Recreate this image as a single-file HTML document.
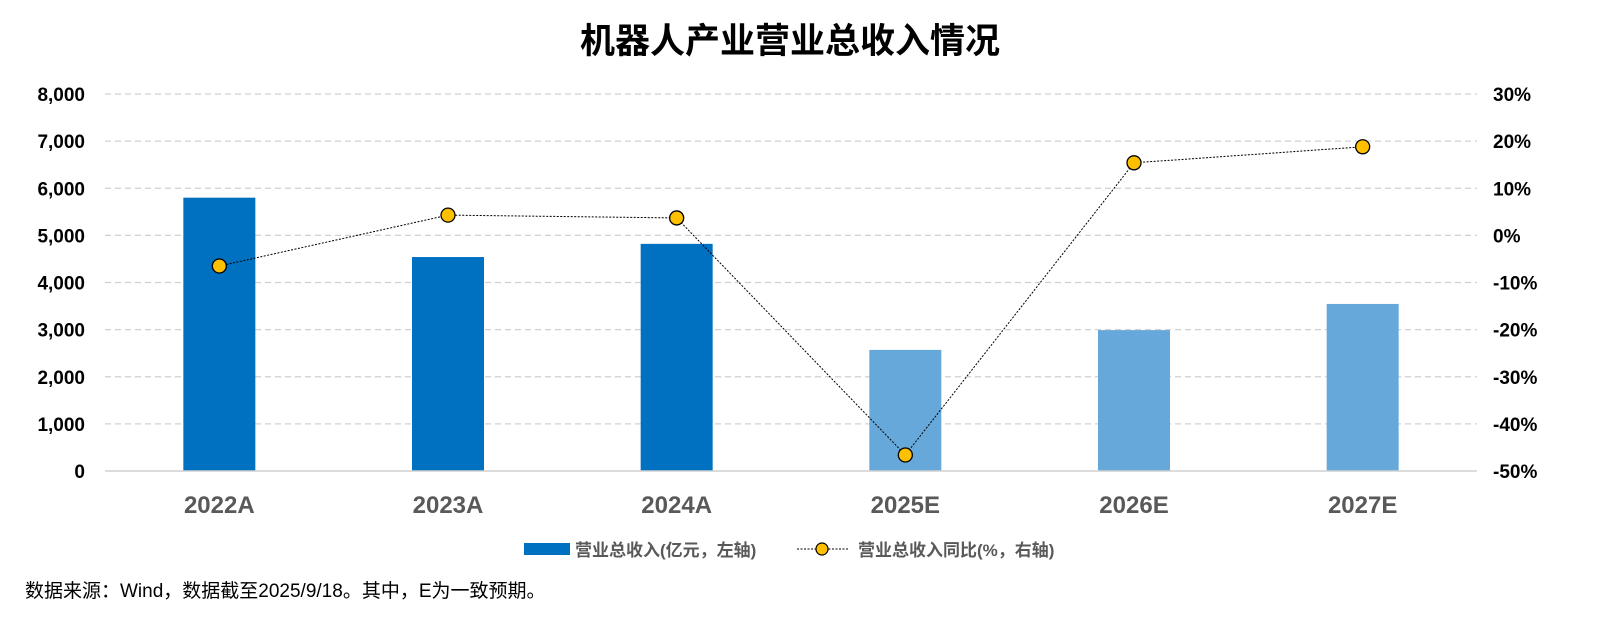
<!DOCTYPE html>
<html><head><meta charset="utf-8"><style>
body{margin:0;background:#fff;width:1613px;height:637px;overflow:hidden;font-family:"Liberation Sans","Noto Sans CJK SC",sans-serif}
</style></head><body>
<svg id="c" width="1613" height="637" xmlns="http://www.w3.org/2000/svg">
<text x="790" y="53" text-anchor="middle" font-size="35" font-weight="bold" fill="#000" font-family="Liberation Sans,Noto Sans CJK SC,sans-serif">机器人产业营业总收入情况</text>
<g id="grid"></g><g id="bars"></g><g id="line"></g><g id="axes"></g>
<g font-family="Liberation Sans,Noto Sans CJK SC,sans-serif" font-size="17" font-weight="bold" fill="#595959">
<rect x="524" y="543" width="46" height="12" fill="#0070C0"/>
<text x="575" y="556">营业总收入(亿元，左轴)</text>
<line x1="797" y1="549" x2="849" y2="549" stroke="#000" stroke-dasharray="2,1.5" stroke-width="1"/>
<circle cx="822" cy="549" r="6" fill="#FFC000" stroke="#000" stroke-width="1.2"/>
<text x="858" y="556">营业总收入同比(%，右轴)</text>
</g>
<text x="25" y="597" font-size="19" fill="#000" font-family="Liberation Sans,Noto Sans CJK SC,sans-serif">数据来源：Wind，数据截至2025/9/18。其中，E为一致预期。</text>
</svg>
<script>
const categories=["2022A","2023A","2024A","2025E","2026E","2027E"];
const revenue=[5800,4540,4820,2570,2990,3545];
const growth=[-6.5,4.3,3.7,-46.6,15.4,18.8];
const leftTicks=[0,1000,2000,3000,4000,5000,6000,7000,8000];
const rightTicks=[-50,-40,-30,-20,-10,0,10,20,30];
const NS="http://www.w3.org/2000/svg";
const X0=105,X1=1477,Y0=471,Y1=94;
const band=(X1-X0)/categories.length;
const xc=i=>X0+band*(i+0.5);
const yl=v=>Y0-(v/8000)*(Y0-Y1);
const yr=v=>Y0-((v+50)/80)*(Y0-Y1);
function mk(tag,attrs,parent,text){const e=document.createElementNS(NS,tag);for(const k in attrs)e.setAttribute(k,attrs[k]);if(text!==undefined)e.textContent=text;document.getElementById(parent).appendChild(e);return e;}
const F="Liberation Sans,Noto Sans CJK SC,sans-serif";
leftTicks.forEach((t,i)=>{
  const y=yl(t);
  if(t>0){const g=mk('line',{x1:X0,x2:X1,y1:y,y2:y,stroke:'#d0d0d0','stroke-dasharray':'6,4','stroke-width':1.2},'grid');
  
  }
  const l=mk('text',{x:85,y:y+7,'text-anchor':'end','font-size':19,'font-weight':'bold','font-family':F},'axes',t.toLocaleString('en-US'));
  
  
});
rightTicks.forEach(t=>{
  const l=mk('text',{x:1493,y:yr(t)+7,'font-size':19,'font-weight':'bold','font-family':F},'axes',t+'%');
  
  
});
const ax=mk('line',{x1:X0,x2:X1,y1:Y0,y2:Y0,stroke:'#d0d0d0','stroke-width':1.5},'axes');


categories.forEach((c,i)=>{
  const b=mk('rect',{x:xc(i)-36,y:yl(revenue[i]),width:72,height:Y0-yl(revenue[i]),fill:i<3?'#0070C0':'#66A8DA'},'bars');
  
  
  const l=mk('text',{x:xc(i),y:513,'text-anchor':'middle','font-size':24,'font-weight':'bold',fill:'#595959','font-family':F},'axes',c);
  
  
});
const pl=mk('polyline',{points:growth.map((v,i)=>xc(i)+','+yr(v)).join(' '),fill:'none',stroke:'#000','stroke-width':1,'stroke-dasharray':'2,1.5'},'line');


growth.forEach((v,i)=>{
  const p=mk('circle',{cx:xc(i),cy:yr(v),r:7,fill:'#FFC000',stroke:'#000','stroke-width':1.3},'line');
  
  
});
</script>
</body></html>
